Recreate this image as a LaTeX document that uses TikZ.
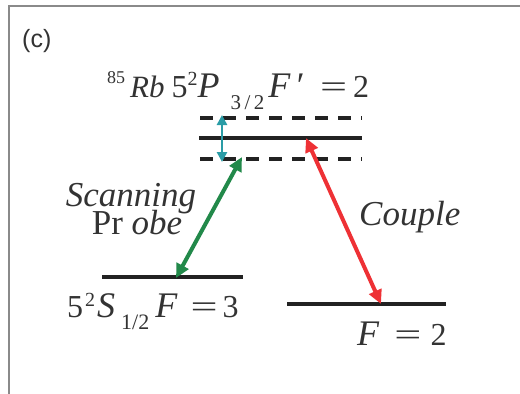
\documentclass[tikz,border=0pt]{standalone}
\usepackage{fontspec}
\setmainfont{Liberation Serif}
\setsansfont{Liberation Sans}
\usetikzlibrary{arrows.meta}
\definecolor{frame}{HTML}{8A8A8A}
\definecolor{lvl}{HTML}{222222}
\definecolor{probe}{HTML}{22894A}
\definecolor{couple}{HTML}{EE3135}
\definecolor{scan}{HTML}{2A9CA6}
\definecolor{txt}{HTML}{333333}
\newcommand{\supx}[3]{\raisebox{#2pt}{\fontsize{#1}{#1}\selectfont #3}}
\newcommand{\subx}[3]{\raisebox{-#2pt}{\fontsize{#1}{#1}\selectfont #3}}
\newcommand{\bigit}[1]{{\fontsize{36}{36}\selectfont\textit{#1}}}
\newcommand{\primex}{{\fontsize{36}{36}\selectfont\textit{′}}}
\newcommand{\eqsign}{\scalebox{1.5}[1]{=}}
\tikzset{
  level/.style={draw=lvl,line width=4.5pt},
  dlevel/.style={draw=lvl,line width=4.5pt,dash pattern=on 13pt off 10pt},
  dbl/.style={line width=4pt,{Triangle[length=14pt,width=13pt]}-{Triangle[length=14pt,width=13pt]}},
  lbl/.style={inner sep=0pt,text=txt,font=\fontsize{32}{32}\selectfont},
  ital/.style={inner sep=0pt,text=txt,font=\fontsize{35}{35}\selectfont},
}
\begin{document}
\begin{tikzpicture}[x=1pt,y=-1pt]
\useasboundingbox (0,0) rectangle (520,394);
\draw[frame,line width=1.3pt] (9,394) -- (9,6) -- (520,6);
\node[inner sep=0pt,anchor=base west,font=\sffamily\fontsize{25}{25}\selectfont,text=txt] (c) at (22,47) {(c)};
% levels
\coordinate (tdL) at (200,118); \coordinate (tdR) at (362,118);
\coordinate (sL) at (199,138); \coordinate (sR) at (362,138);
\coordinate (bdL) at (200,159); \coordinate (bdR) at (362,159);
\coordinate (gL) at (102,277); \coordinate (gR) at (243,277);
\coordinate (fL) at (287,304); \coordinate (fR) at (446,304);
\draw[dlevel] (tdL) -- (tdR);
\draw[level] (sL) -- (sR);
\draw[dlevel] (bdL) -- (bdR);
\draw[level] (gL) -- (gR);
\draw[level] (fL) -- (fR);
% arrows
\coordinate (cyT) at (222,115); \coordinate (cyB) at (222,162);
\draw[scan,line width=2.8pt,{Triangle[length=10pt,width=10pt]}-{Triangle[length=10pt,width=10pt]}] (cyT) -- (cyB);
\coordinate (gT) at (242,157); \coordinate (gB) at (176,278);
\draw[probe,dbl] (gB) -- (gT);
\coordinate (rT) at (306,138); \coordinate (rB) at (381,304);
\draw[couple,dbl] (rT) -- (rB);
% labels
\node[lbl,anchor=base west] (title) at (107,97) {\supx{18}{14}{85}\hspace{5pt}{\fontsize{31}{31}\selectfont\textit{Rb}}\hspace{7pt}5\supx{20}{12}{2}\bigit{P}\hspace{11pt}\subx{21}{12}{3\,/\,2}\hspace{4pt}\bigit{F}\hspace{4pt}\primex\hspace{17pt}\eqsign\hspace{6pt}2};
\node[lbl,anchor=base west] (gs) at (67,317) {5\hspace{2pt}\supx{20}{11}{2}\hspace{2pt}\bigit{S}\hspace{6pt}\subx{22}{12}{1/2}\hspace{6pt}\bigit{F}\hspace{13pt}\eqsign\hspace{5pt}3};
\node[lbl,anchor=base west] (f2) at (357,345) {\bigit{F}\hspace{15pt}\eqsign\hspace{9pt}2};
\node[ital,anchor=base] (scanning) at (131,206) {\textit{Scanning}};
\node[ital,anchor=base] (probe) at (137,234) {Pr \textit{obe}};
\node[ital,anchor=base west] (couple) at (359,225) {\textit{Couple}};
\end{tikzpicture}
\end{document}
